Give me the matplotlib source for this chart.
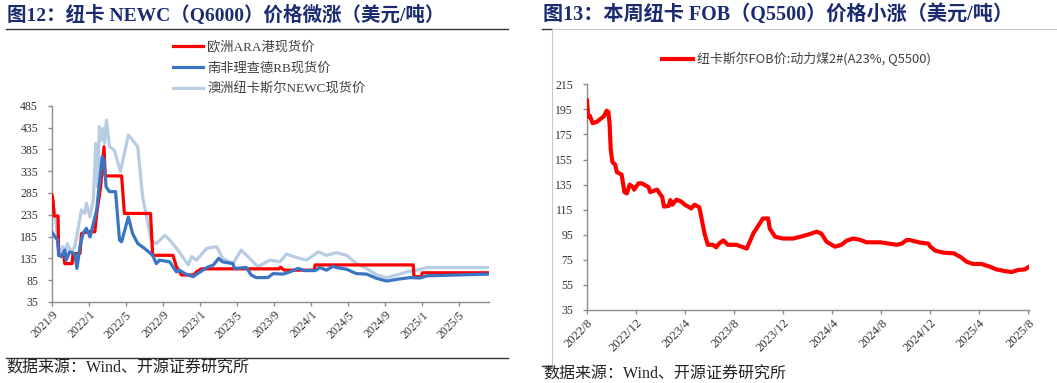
import matplotlib
matplotlib.use("Agg")
import matplotlib.pyplot as plt
import matplotlib.dates as mdates
import pandas as pd
from matplotlib.lines import Line2D

# ---------------- Left chart data (USD/t) ----------------
ara_dates = ['2021-09-01','2021-09-05','2021-09-08','2021-09-21','2021-09-23','2021-10-10','2021-10-13','2021-11-06',
             '2021-11-09','2021-12-02','2021-12-07','2021-12-28','2022-01-20','2022-01-26','2022-02-08','2022-02-19',
             '2022-02-23','2022-04-18','2022-04-27','2022-07-22','2022-07-29','2022-10-04','2022-10-15','2022-11-01',
             '2022-12-12','2022-12-20','2023-01-05','2023-09-18','2023-09-22','2023-10-05','2024-01-12','2024-01-14',
             '2024-12-02','2024-12-04','2024-12-28','2025-01-01','2025-08-08']
ara_values = [280,265,232,232,142,142,123,123,146,146,192,196,196,238,300,391,324,324,238,238,142,142,116,97,
              97,104,111,111,115,108,108,120,120,93,93,102,102]

rb_dates = ['2021-09-01','2021-09-10','2021-09-19','2021-09-23','2021-10-02','2021-10-13','2021-10-18','2021-10-29',
            '2021-11-15','2021-11-22','2021-12-02','2021-12-12','2021-12-23','2022-01-04','2022-01-15','2022-01-26',
            '2022-02-06','2022-02-13','2022-02-19','2022-02-26','2022-03-09','2022-03-29','2022-04-11','2022-04-18',
            '2022-05-10','2022-05-24','2022-06-10','2022-07-02','2022-07-29','2022-08-10','2022-08-21','2022-09-23',
            '2022-10-15','2022-10-25','2022-11-12','2022-12-09','2023-01-01','2023-01-23','2023-02-14','2023-03-03',
            '2023-03-16','2023-04-19','2023-04-24','2023-06-02','2023-06-18','2023-07-04','2023-08-12','2023-08-29',
            '2023-10-01','2023-10-23','2023-11-19','2023-12-11','2024-01-14','2024-01-30','2024-02-21','2024-03-13',
            '2024-03-24','2024-04-27','2024-05-29','2024-07-01','2024-08-04','2024-09-06','2024-10-09','2024-11-22',
            '2024-12-24','2025-01-16','2025-08-08']
rb_values = [195,185,177,142,139,154,131,150,146,112,162,192,204,184,215,246,322,368,360,299,288,288,177,173,
             230,192,169,158,142,123,131,127,104,108,100,93,104,114,120,135,127,123,112,114,97,91,91,100,
             99,104,112,107,107,114,108,117,114,110,100,99,89,83,87,91,90,95,99]

newc_dates = ['2021-09-01','2021-09-10','2021-09-19','2021-09-26','2021-10-07','2021-10-15','2021-10-21','2021-11-04',
              '2021-11-15','2021-11-25','2021-12-07','2021-12-18','2021-12-23','2022-01-04','2022-01-15','2022-01-23',
              '2022-01-29','2022-02-04','2022-02-09','2022-02-16','2022-02-21','2022-02-27','2022-03-09','2022-03-25',
              '2022-04-14','2022-05-10','2022-06-10','2022-06-26','2022-07-24','2022-08-10','2022-09-07','2022-09-23',
              '2022-10-20','2022-11-12','2022-11-23','2022-12-04','2022-12-20','2023-01-23','2023-02-25','2023-03-16',
              '2023-04-19','2023-05-16','2023-06-13','2023-07-10','2023-08-18','2023-09-20','2023-10-12','2023-11-14',
              '2023-12-17','2024-01-25','2024-02-21','2024-03-24','2024-04-27','2024-05-29','2024-07-01','2024-08-04',
              '2024-09-06','2024-10-09','2024-11-11','2024-12-13','2025-01-16','2025-08-08']
newc_values = [253,245,177,146,162,146,169,150,162,200,246,238,261,230,269,399,299,437,406,433,399,452,391,383,
               334,418,391,276,177,169,188,177,154,131,120,139,131,158,162,135,123,154,135,116,131,127,145,137,
               131,150,142,148,142,123,112,97,91,97,104,108,114,114]

left_labels = ['欧洲ARA港现货价', '南非理查德RB现货价', '澳洲纽卡斯尔NEWC现货价']
left_xtick_dates = ['2021-09-01','2022-01-01','2022-05-01','2022-09-01','2023-01-01','2023-05-01',
                    '2023-09-01','2024-01-01','2024-05-01','2024-09-01','2025-01-01','2025-05-01']
left_xtick_labels = ['2021/9','2022/1','2022/5','2022/9','2023/1','2023/5',
                     '2023/9','2024/1','2024/5','2024/9','2025/1','2025/5']
left_yticks = [35, 85, 135, 185, 235, 285, 335, 385, 435, 485]

# ---------------- Right chart data (USD/t) ----------------
fob_dates = ['2022-08-01','2022-08-04','2022-08-08','2022-08-15','2022-08-25','2022-09-02','2022-09-12','2022-09-19',
             '2022-09-23','2022-09-26','2022-09-29','2022-10-03','2022-10-10','2022-10-14','2022-10-26','2022-11-02',
             '2022-11-08','2022-11-15','2022-11-23','2022-11-26','2022-12-07','2022-12-15','2023-01-01','2023-01-05',
             '2023-01-22','2023-02-04','2023-02-08','2023-02-20','2023-02-24','2023-03-01','2023-03-11','2023-03-23',
             '2023-04-01','2023-04-17','2023-04-25','2023-05-07','2023-05-12','2023-05-20','2023-05-28','2023-06-10',
             '2023-06-18','2023-06-25','2023-07-06','2023-07-17','2023-08-07','2023-09-02','2023-09-18','2023-10-04',
             '2023-10-12','2023-10-25','2023-10-29','2023-11-11','2023-12-01','2023-12-26','2024-01-20','2024-02-06',
             '2024-02-23','2024-03-05','2024-03-18','2024-04-08','2024-04-24','2024-05-07','2024-05-23','2024-06-09',
             '2024-06-25','2024-07-29','2024-09-09','2024-09-21','2024-10-03','2024-10-11','2024-11-06','2024-11-26',
             '2024-12-01','2024-12-13','2025-01-03','2025-01-28','2025-02-13','2025-03-01','2025-03-17','2025-04-07',
             '2025-04-28','2025-05-14','2025-06-04','2025-06-21','2025-07-07','2025-07-24','2025-08-03']
fob_values = [202,189,190,184,185,187,189.5,194,193,184,163,153,151,145,143,129,128,135,133,131,136,136,133,129,
              131,125,117.5,118,122.7,119,123,121.5,119,116,119,117,109,96,87,87,85,88,90.5,87,87,84,96,104,
              108,108,100,93.5,92,92,94,95.6,97.5,96,89.5,85.5,87,90.3,92,91,89,89,87,88,90.8,90.8,88.7,88,
              85.5,82.3,80.7,80.2,77.5,73.5,71.7,71.7,69.5,67.4,66,65.3,66.9,67.4,69.5]
fob_label = '纽卡斯尔FOB价:动力煤2#(A23%, Q5500)'
right_xtick_dates = ['2022-08-01','2022-12-01','2023-04-01','2023-08-01','2023-12-01','2024-04-01',
                     '2024-08-01','2024-12-01','2025-04-01','2025-08-01']
right_xtick_labels = ['2022/8','2022/12','2023/4','2023/8','2023/12','2024/4',
                      '2024/8','2024/12','2025/4','2025/8']
right_yticks = [35, 55, 75, 95, 115, 135, 155, 175, 195, 215]

title_left = '图12：纽卡 NEWC（Q6000）价格微涨（美元/吨）'
title_right = '图13：本周纽卡 FOB（Q5500）价格小涨（美元/吨）'
source_text = '数据来源：Wind、开源证券研究所'

# ---------------- Figure ----------------
W, H = 1057, 383
fig = plt.figure(figsize=(W / 100, H / 100), dpi=100)
fig.patch.set_facecolor('white')

SERIF = ['Liberation Serif', 'Noto Sans CJK SC']
SANS = ['Noto Sans CJK SC', 'DejaVu Sans']
NAVY = '#1B2B70'
AXIS_C = '#8C8C8C'
TXT_C = '#333333'


def fx(px):
    return px / W


def fy(py):
    return 1 - py / H


def style_axis(ax, yticks, xtick_dates, xtick_labels, ylim, xlim, xsize):
    ax.set_ylim(*ylim)
    ax.set_xlim(pd.Timestamp(xlim[0]), pd.Timestamp(xlim[1]))
    ax.set_yticks(yticks)
    ax.set_yticklabels([str(v) for v in yticks])
    ax.set_xticks(pd.to_datetime(xtick_dates))
    ax.set_xticklabels(xtick_labels, rotation=45, ha='right', rotation_mode='anchor')
    for s in ['top', 'right']:
        ax.spines[s].set_visible(False)
    for s in ['left', 'bottom']:
        ax.spines[s].set_color(AXIS_C)
        ax.spines[s].set_linewidth(1.0)
    ax.tick_params(axis='y', direction='out', length=3, width=1, color=AXIS_C, pad=7,
                   labelsize=8.5, labelcolor=TXT_C)
    ax.tick_params(axis='x', direction='out', length=3, width=1, color=AXIS_C, pad=2,
                   labelsize=xsize, labelcolor=TXT_C)
    for lab in ax.get_xticklabels() + ax.get_yticklabels():
        lab.set_fontfamily(SERIF)
    ax.set_facecolor('white')


# ---- Left chart ----
ax1 = fig.add_axes([fx(52), fy(302), fx(489) - fx(52), fy(105.7) - fy(302)])
l3, = ax1.plot(pd.to_datetime(newc_dates), newc_values, color='#B8CCE4', lw=2.3, zorder=2,
               solid_joinstyle='round', label=left_labels[2])
l1, = ax1.plot(pd.to_datetime(ara_dates), ara_values, color='#FF0000', lw=2.3, zorder=3,
               solid_joinstyle='round', label=left_labels[0])
l2, = ax1.plot(pd.to_datetime(rb_dates), rb_values, color='#3A75C4', lw=2.3, zorder=4,
               solid_joinstyle='round', label=left_labels[1])
style_axis(ax1, left_yticks, left_xtick_dates, left_xtick_labels, (35, 485),
           ('2021-09-01', '2025-08-08'), 8.5)

leg1 = fig.legend([l1, l2, l3], left_labels, loc='center left', bbox_to_anchor=(fx(173), fy(68.3)),
                  frameon=False, handlelength=2.3, handletextpad=0.3, labelspacing=0.62,
                  borderpad=0, borderaxespad=0, prop={'family': SERIF, 'size': 9.5})
for t in leg1.get_texts():
    t.set_color('#404040')

# ---- Right chart ----
ax2 = fig.add_axes([fx(587), fy(310), fx(1029) - fx(587), fy(84.3) - fy(310)])
r1, = ax2.plot(pd.to_datetime(fob_dates), fob_values, color='#FF0000', lw=3.0, zorder=3,
               solid_joinstyle='round', label=fob_label)
style_axis(ax2, right_yticks, right_xtick_dates, right_xtick_labels, (35, 215),
           ('2022-08-01', '2025-08-03'), 9)

leg2 = fig.legend([r1], [fob_label], loc='center left', bbox_to_anchor=(fx(662), fy(59.3)),
                  frameon=False, handlelength=2.4, handletextpad=0.3,
                  borderpad=0, borderaxespad=0, prop={'family': SANS, 'size': 9.3})
for t in leg2.get_texts():
    t.set_color('#404040')

# ---- Titles, rules, sources ----
fig.text(fx(7), fy(15), title_left, fontsize=14, fontweight='bold', color=NAVY,
         family=SERIF, ha='left', va='center')
fig.text(fx(543), fy(15), title_right, fontsize=14.5, fontweight='bold', color=NAVY,
         family=SERIF, ha='left', va='center')

fig.add_artist(Line2D([fx(6), fx(508)], [fy(29.3), fy(29.3)], transform=fig.transFigure,
                      color='#333333', lw=1.0))
fig.add_artist(Line2D([fx(6), fx(508)], [fy(357.7), fy(357.7)], transform=fig.transFigure,
                      color='#333333', lw=1.0))
# right panel frame
fig.add_artist(Line2D([fx(542), fx(552)], [fy(29.3), fy(29.3)], transform=fig.transFigure,
                      color='#333333', lw=1.0))
fig.add_artist(Line2D([fx(552), fx(1057)], [fy(29.3), fy(29.3)], transform=fig.transFigure,
                      color='#C8C8C8', lw=0.8))
fig.add_artist(Line2D([fx(552), fx(552)], [fy(29.3), fy(366)], transform=fig.transFigure,
                      color='#C8C8C8', lw=0.8))
fig.add_artist(Line2D([fx(542), fx(552)], [fy(366), fy(366)], transform=fig.transFigure,
                      color='#333333', lw=1.0))

fig.text(fx(6), fy(369), source_text, fontsize=11.5, color='#222222', family=SERIF,
         ha='left', va='center')
fig.text(fx(543), fy(375), source_text, fontsize=11.5, color='#222222', family=SERIF,
         ha='left', va='center')

fig.savefig('out.png', dpi=100, facecolor='white')
